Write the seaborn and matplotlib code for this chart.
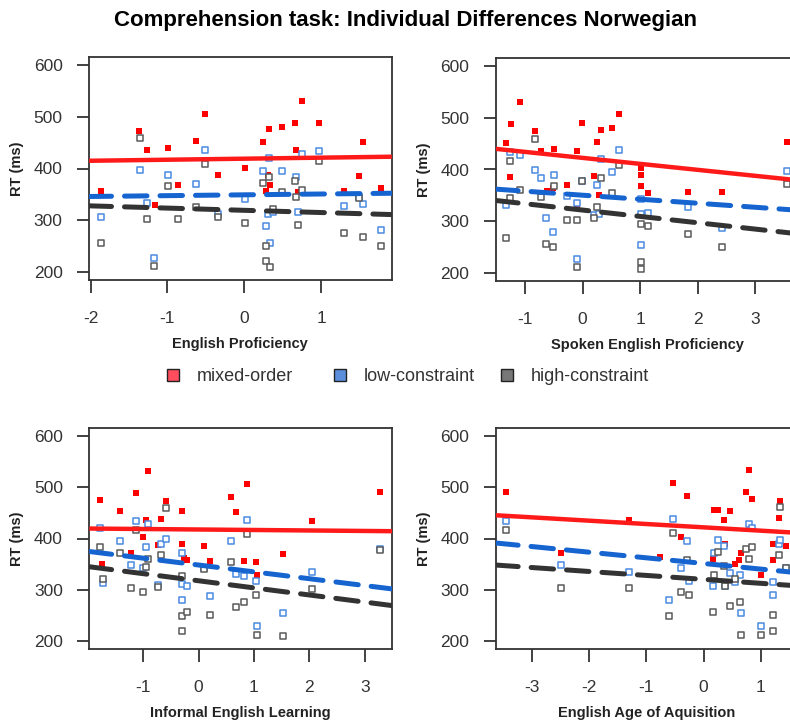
import matplotlib
matplotlib.use("Agg")
import matplotlib.pyplot as plt
import seaborn as sns
import pandas as pd
from matplotlib.patches import Patch

# --- data ---
conditions = ["mixed-order", "low-constraint", "high-constraint"]

# English Proficiency
prof_red_x = [-1.87, -1.37, -1.27, -1.16, -0.99, -0.86, -0.63, -0.51, -0.34, 0.01, 0.25, 0.28, 0.31, 0.32, 0.33,
              0.49, 0.66, 0.67, 0.70, 0.75, 0.98, 1.30, 1.49, 1.54, 1.78]
prof_red_y = [357, 472, 435, 329, 439, 369, 454, 506, 388, 401, 452, 356, 388, 476, 369,
              480, 489, 436, 354, 530, 488, 356, 385, 451, 362]
prof_blue_x = [-1.87, -1.36, -1.27, -1.17, -0.99, -0.63, -0.51, -0.34, 0.01, 0.28, 0.25, 0.31, 0.32, 0.33,
               0.38, 0.49, 0.67, 0.70, 0.75, 0.98, 1.30, 1.49, 1.54, 1.78]
prof_blue_y = [306, 397, 334, 227, 388, 370, 436, 311, 341, 288, 396, 312, 420, 255,
               315, 395, 384, 316, 428, 434, 328, 344, 331, 280]
prof_grey_x = [-1.87, -1.36, -1.27, -1.17, -0.99, -0.86, -0.63, -0.51, -0.34, 0.01, 0.25, 0.28, 0.29, 0.32,
               0.33, 0.38, 0.49, 0.66, 0.67, 0.70, 0.75, 0.98, 1.30, 1.49, 1.54, 1.78]
prof_grey_y = [256, 460, 302, 212, 367, 302, 326, 408, 307, 294, 371, 250, 220, 383,
               210, 322, 354, 376, 345, 290, 359, 415, 276, 342, 267, 249]
prof_fit_int = [419, 349, 319]
prof_fit_slope = [2.0, 1.6, -4.3]

# Spoken English Proficiency
spok_red_x = [-1.33, -1.25, -1.26, -1.09, -0.83, -0.73, -0.62, -0.52, -0.49, -0.27, -0.10, -0.10, -0.02, 0.20,
              0.25, 0.28, 0.31, 0.51, 0.63, 1.01, 1.01, 1.01, 1.14, 1.83, 2.42, 3.54]
spok_red_y = [452, 488, 386, 531, 474, 436, 358, 364, 440, 370, 436, 330, 490, 388,
              454, 350, 477, 481, 508, 403, 389, 369, 355, 356, 356, 453]
spok_blue_x = [-1.33, -1.26, -1.09, -0.83, -0.73, -0.64, -0.49, -0.52, -0.27, -0.10, -0.10, -0.02, 0.20,
               0.25, 0.28, 0.31, 0.51, 0.63, 1.01, 1.01, 1.01, 1.14, 1.83, 2.42, 3.54]
spok_blue_y = [332, 434, 428, 399, 383, 307, 390, 279, 348, 335, 227, 377, 311,
               370, 314, 420, 395, 437, 342, 314, 254, 316, 327, 286, 397]
spok_grey_x = [-1.33, -1.26, -1.26, -1.09, -0.83, -0.73, -0.64, -0.52, -0.49, -0.27, -0.10, -0.10, -0.02,
               0.20, 0.25, 0.31, 0.51, 0.63, 1.01, 1.01, 1.01, 1.14, 1.83, 2.42, 3.54]
spok_grey_y = [267, 416, 344, 360, 460, 346, 256, 249, 368, 303, 303, 212, 377,
               307, 327, 384, 355, 408, 294, 220, 208, 290, 275, 250, 372]
spok_fit_int = [422.5, 350.2, 321.4]
spok_fit_slope = [-11.6, -7.8, -12.3]

# Informal English Learning
inf_red_x = [-1.77, -1.74, -1.42, -1.21, -1.13, -1.00, -0.95, -0.91, -0.73, -0.67, -0.59, -0.29, -0.29, -0.27,
             -0.20, 0.09, 0.20, 0.58, 0.67, 0.82, 0.87, 1.03, 1.06, 1.52, 2.05, 3.28]
inf_red_y = [475, 350, 453, 371, 489, 403, 437, 531, 388, 439, 473, 454, 390, 362,
             358, 386, 356, 481, 452, 356, 507, 355, 329, 370, 435, 490]
inf_blue_x = [-1.77, -1.73, -1.42, -1.21, -1.13, -1.00, -0.95, -0.91, -0.73, -0.67, -0.59, -0.29, -0.29,
              -0.29, -0.20, 0.09, 0.20, 0.58, 0.67, 0.82, 0.87, 1.03, 1.06, 1.52, 2.05, 3.28]
inf_blue_y = [420, 313, 396, 348, 434, 342, 384, 428, 310, 389, 399, 371, 312,
              279, 307, 343, 288, 396, 331, 327, 437, 316, 228, 255, 334, 380]
inf_grey_x = [-1.77, -1.73, -1.42, -1.21, -1.13, -1.00, -0.95, -0.91, -0.73, -0.67, -0.59, -0.29, -0.29,
              -0.29, -0.20, 0.09, 0.20, 0.58, 0.67, 0.82, 0.87, 1.03, 1.06, 1.52, 2.05, 3.28]
inf_grey_y = [383, 321, 372, 303, 416, 295, 345, 360, 306, 368, 460, 326, 249,
              219, 256, 341, 250, 355, 267, 276, 408, 290, 212, 210, 302, 378]
inf_fit_int = [417.6, 348.2, 317.4]
inf_fit_slope = [-0.95, -13.4, -13.9]

# English Age of Aquisition
aoa_red_x = [-3.46, -2.50, -1.30, -0.76, -0.53, -0.40, -0.29, 0.16, 0.19, 0.26, 0.36, 0.37, 0.47, 0.55,
             0.62, 0.65, 0.74, 0.79, 0.85, 1.00, 1.21, 1.22, 1.32, 1.34, 1.45]
aoa_red_y = [490, 371, 436, 364, 509, 403, 483, 359, 456, 455, 437, 390, 453, 350,
             357, 371, 491, 533, 477, 329, 357, 389, 441, 474, 386]
aoa_blue_x = [-3.46, -2.50, -1.30, -0.60, -0.53, -0.40, -0.29, -0.26, 0.16, 0.19, 0.26, 0.36, 0.37, 0.47,
              0.55, 0.64, 0.65, 0.79, 0.85, 1.00, 1.22, 1.22, 1.32, 1.34, 1.45]
aoa_blue_y = [435, 348, 334, 280, 438, 343, 396, 316, 307, 372, 397, 385, 307, 333,
              314, 329, 255, 429, 421, 228, 314, 289, 389, 398, 342]
aoa_grey_x = [-3.46, -2.50, -1.30, -0.60, -0.53, -0.40, -0.29, -0.26, 0.16, 0.19, 0.26, 0.36, 0.37, 0.47,
              0.55, 0.64, 0.65, 0.75, 0.79, 0.85, 1.00, 1.22, 1.22, 1.32, 1.34, 1.45]
aoa_grey_y = [417, 303, 303, 248, 410, 296, 357, 290, 257, 328, 373, 346, 307, 268,
              320, 276, 211, 380, 360, 384, 212, 250, 219, 368, 461, 342]
aoa_fit_int = [421.8, 351.2, 320.1]
aoa_fit_slope = [-6.5, -11.0, -7.7]

# --- styling ---
point_color = ["#ff0000", "#4a8ae0", "#5a5a5a"]
line_color = ["#ff1a1a", "#1664d0", "#333333"]
legend_fill = ["#ff4d5e", "#5b8fdc", "#777777"]

W, H = 790, 722
fig = plt.figure(figsize=(W / 100, H / 100), dpi=100)
sns.set_style("white")
plt.rcParams['font.family'] = ['Liberation Sans', 'DejaVu Sans']
plt.rcParams['axes.unicode_minus'] = False

panels = [
    ("English Proficiency", [89, 57, 302.7, 223], (-2.02, 1.92), [-2, -1, 0, 1],
     [(prof_red_x, prof_red_y), (prof_blue_x, prof_blue_y), (prof_grey_x, prof_grey_y)],
     prof_fit_int, prof_fit_slope),
    ("Spoken English Proficiency", [495.7, 58, 302.7, 223], (-1.51, 3.745), [-1, 0, 1, 2, 3],
     [(spok_red_x, spok_red_y), (spok_blue_x, spok_blue_y), (spok_grey_x, spok_grey_y)],
     spok_fit_int, spok_fit_slope),
    ("Informal English Learning", [89.3, 428, 302.7, 221], (-1.97, 3.49), [-1, 0, 1, 2, 3],
     [(inf_red_x, inf_red_y), (inf_blue_x, inf_blue_y), (inf_grey_x, inf_grey_y)],
     inf_fit_int, inf_fit_slope),
    ("English Age of Aquisition", [495.7, 428, 302.7, 221], (-3.64, 1.66), [-3, -2, -1, 0, 1],
     [(aoa_red_x, aoa_red_y), (aoa_blue_x, aoa_blue_y), (aoa_grey_x, aoa_grey_y)],
     aoa_fit_int, aoa_fit_slope),
]

for label, box, xlim, xticks, series, fit_int, fit_slope in panels:
    l, t, w, h = box
    ax = fig.add_axes([l / W, 1 - (t + h) / H, w / W, h / H])
    for i, (xs, ys) in enumerate(series):
        df = pd.DataFrame({"x": xs, "y": ys})
        if i == 0:
            sns.scatterplot(data=df, x="x", y="y", ax=ax, marker="s", s=14,
                            color=point_color[i], linewidth=0, zorder=3)
        else:
            sns.scatterplot(data=df, x="x", y="y", ax=ax, marker="s", s=15,
                            facecolor="white", edgecolor=point_color[i], linewidth=1.1, zorder=3)
    for i in range(3):
        ls = "-" if i == 0 else (0, (4.5, 2.6))
        ax.axline((0, fit_int[i]), slope=fit_slope[i], color=line_color[i], lw=3.2 if i == 0 else 3.6,
                  linestyle=ls, dash_capstyle="round", solid_capstyle="butt", zorder=4)
    ax.set_xlim(*xlim)
    ax.set_ylim(184, 616)
    ax.set_xticks(xticks)
    ax.set_yticks([200, 300, 400, 500, 600])
    ax.tick_params(axis="both", direction="out", length=9, width=1.3, color="#333333",
                   labelsize=12.5, labelcolor="#333333", bottom=True, left=True)
    ax.tick_params(axis="x", pad=13)
    ax.tick_params(axis="y", pad=10)
    for sp in ax.spines.values():
        sp.set_color("#333333")
        sp.set_linewidth(1.3)
    ax.set_xlabel(label, fontsize=10.5, fontweight="bold", color="#222222", labelpad=8)
    ax.set_ylabel("RT (ms)", fontsize=10.5, fontweight="bold", color="#222222", labelpad=7)

fig.text(0.513, 0.971, "Comprehension task: Individual Differences Norwegian",
         ha="center", va="center", fontsize=16, fontweight="bold", color="black")

# legend: one entry per slot, placed like the reference row
legend_left = [167, 334, 501]
for i in range(3):
    h = Patch(facecolor=legend_fill[i], edgecolor="#222222", linewidth=1.0)
    fig.legend([h], [conditions[i]], loc="center left", bbox_to_anchor=(legend_left[i] / W, 0.478),
               frameon=False, fontsize=13, handlelength=0.65, handleheight=0.65, handletextpad=1.0,
               borderpad=0, borderaxespad=0, labelcolor="#333333")

fig.savefig("out.png", dpi=100)
